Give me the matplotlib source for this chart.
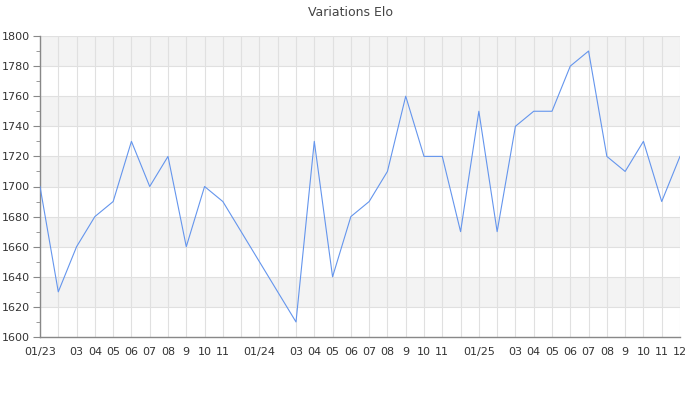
import matplotlib
matplotlib.use("Agg")
import matplotlib.pyplot as plt
from matplotlib.ticker import MultipleLocator

# une valeur par mois (déc. 2023 -> fév. 2024 absents)
months = ["2023-01", "2023-02", "2023-03", "2023-04", "2023-05", "2023-06",
          "2023-07", "2023-08", "2023-09", "2023-10", "2023-11",
          "2024-03", "2024-04", "2024-05", "2024-06", "2024-07", "2024-08",
          "2024-09", "2024-10", "2024-11", "2024-12",
          "2025-01", "2025-02", "2025-03", "2025-04", "2025-05", "2025-06",
          "2025-07", "2025-08", "2025-09", "2025-10", "2025-11", "2025-12"]
elo = [1700, 1630, 1660, 1680, 1690, 1730, 1700, 1720, 1660, 1700, 1690,
       1610, 1730, 1640, 1680, 1690, 1710, 1760, 1720, 1720, 1670,
       1750, 1670, 1740, 1750, 1750, 1780, 1790, 1720, 1710, 1730, 1690, 1720]

tick_labels = ["01/23", "", "03", "04", "05", "06", "07", "08", "9", "10", "11", "",
               "01/24", "", "03", "04", "05", "06", "07", "08", "9", "10", "11", "",
               "01/25", "", "03", "04", "05", "06", "07", "08", "9", "10", "11", "12"]

# index du mois depuis janvier 2023 (axe mensuel régulier)
x = [(int(m[:4]) - 2023) * 12 + int(m[5:]) - 1 for m in months]

fig = plt.figure(figsize=(7, 4), dpi=100)
ax = fig.add_axes([40 / 700, 1 - 337 / 400, 640 / 700, 301 / 400])

# bandes grises alternées
for y0 in range(1620, 1800, 40):
    ax.axhspan(y0, y0 + 20, color="#f3f3f3", zorder=0, lw=0)

ax.plot(x, elo, color="#6495ed", lw=0.8, zorder=3)

ax.set_ylim(1600, 1800)
ax.set_xlim(0, len(tick_labels) - 1)
ax.yaxis.set_major_locator(MultipleLocator(20))
ax.yaxis.set_minor_locator(MultipleLocator(10))
ax.set_xticks(range(len(tick_labels)))
ax.set_xticklabels(tick_labels)

ax.grid(True, which="major", color="#e0e0e0", lw=0.8, zorder=1)
ax.set_axisbelow(True)

for s in ["top", "right"]:
    ax.spines[s].set_visible(False)
for s in ["left", "bottom"]:
    ax.spines[s].set_color("#888888")
    ax.spines[s].set_linewidth(1)

ax.tick_params(axis="y", which="major", length=5, color="#888888",
               labelsize=8, labelcolor="#333333", pad=2)
ax.tick_params(axis="y", which="minor", length=3, color="#888888")
ax.tick_params(axis="x", length=0, labelsize=8, labelcolor="#333333", pad=7.5)

fig.suptitle("Variations Elo", fontsize=9, color="#444444", y=0.985)

fig.savefig("out.png", dpi=100)
